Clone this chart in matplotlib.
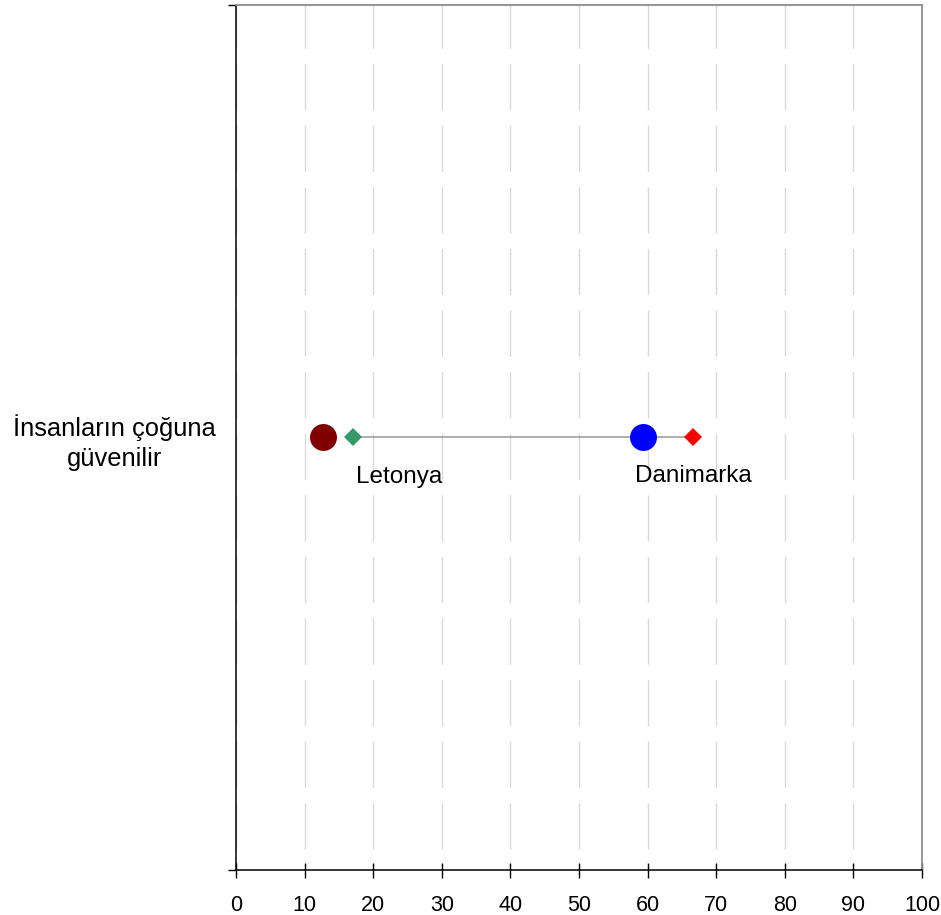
import matplotlib.pyplot as plt
from matplotlib.ticker import FixedLocator, NullFormatter

# 数据
countries = ['Letonya', 'Danimarka']
circle_vals = [12.7, 59.3]
diamond_vals = [17.1, 66.6]
circle_colors = ['#800000', '#0000ff']
diamond_colors = ['#339966', '#ff0000']
category = 'İnsanların çoğuna\ngüvenilir'
x_ticks = list(range(0, 101, 10))

plt.rcParams.update({
    'font.family': ['Liberation Sans', 'DejaVu Sans'],
    'font.size': 15.5,
})

fig = plt.figure(figsize=(9.41, 9.15), dpi=100)
ax = fig.add_axes([236 / 941, 45.5 / 915, 686 / 941, 865 / 915])

# 连接线 + 标记
ax.plot(diamond_vals, [0, 0], color='#999999', linewidth=1.1, zorder=2)
for i in range(len(countries)):
    ax.plot(circle_vals[i], 0, marker='o', markersize=19.4, color=circle_colors[i],
            markeredgewidth=0, linestyle='none', zorder=3)
    ax.plot(diamond_vals[i], 0, marker='D', markersize=9.2, color=diamond_colors[i],
            markeredgewidth=0, linestyle='none', zorder=3)

# 数据标签
ax.annotate(countries[0], (diamond_vals[0], 0), xytext=(2, -33), textcoords='offset points',
            ha='left', va='baseline', fontsize=17.5)
ax.annotate(countries[1], (diamond_vals[1], 0), xytext=(0, -32.5), textcoords='offset points',
            ha='center', va='baseline', fontsize=17.5)

# 坐标轴
ax.set_xlim(0, 100)
ax.set_ylim(-0.5, 0.5)
ax.set_xticks(x_ticks)
ax.tick_params(axis='x', direction='inout', length=10.8, width=1.0, pad=13, labelsize=15.5)

ax.yaxis.set_major_locator(FixedLocator([-0.5, 0.5]))
ax.yaxis.set_major_formatter(NullFormatter())
ax.tick_params(axis='y', which='major', direction='out', length=5.8, width=1.0)
ax.yaxis.set_minor_locator(FixedLocator([0]))
ax.set_yticklabels([category], minor=True, multialignment='center', fontsize=18.4,
                   linespacing=1.3)
ax.tick_params(axis='y', which='minor', length=0, pad=14.4)

# 网格
ax.set_axisbelow(True)
ax.xaxis.grid(True, color='#d9d9d9', linewidth=1.0, linestyle=(29.2, (33.2, 11.15)))

for s in ['left', 'bottom']:
    ax.spines[s].set_color('black')
    ax.spines[s].set_linewidth(1.1)
for s in ['top', 'right']:
    ax.spines[s].set_color('#8c8c8c')
    ax.spines[s].set_linewidth(1.3)

fig.savefig('out.png', dpi=100)
